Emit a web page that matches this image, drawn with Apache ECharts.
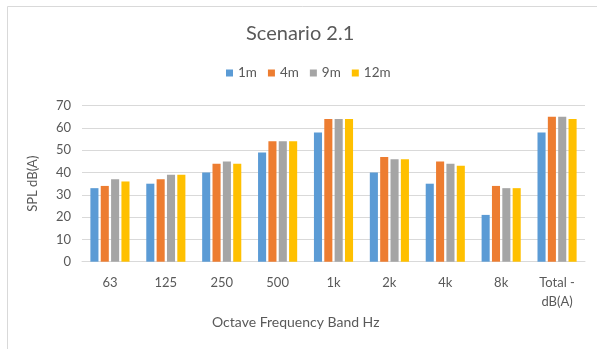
<!DOCTYPE html>
<html>
<head>
<meta charset="utf-8">
<script src="https://cdn.jsdelivr.net/npm/echarts@6/dist/echarts.min.js"></script>
<style>
  html, body { margin: 0; padding: 0; background: #fff; }
  #chart { width: 597px; height: 349px; }
</style>
</head>
<body>
<div id="chart"></div>
<script>
// Octave bands and measured SPL at each distance
const bands = ['63', '125', '250', '500', '1k', '2k', '4k', '8k', 'Total -\ndB(A)'];
const spl1m  = [33, 35, 40, 49, 58, 40, 35, 21, 58];
const spl4m  = [34, 37, 44, 54, 64, 47, 45, 34, 65];
const spl9m  = [37, 39, 45, 54, 64, 46, 44, 33, 65];
const spl12m = [36, 39, 44, 54, 64, 46, 43, 33, 64];
const seriesNames = ['1m', '4m', '9m', '12m'];
const yTicks = [0, 10, 20, 30, 40, 50, 60, 70];

const colors = ['#5B9BD5', '#ED7D31', '#A5A5A5', '#FFC000'];
const textColor = '#595959';
const font = 'Lato, "Open Sans", sans-serif';

const chart = echarts.init(document.getElementById('chart'), null, { renderer: 'canvas' });

const makeSeries = (name, data, i) => ({
  name,
  type: 'bar',
  data,
  barGap: '28%',
  barCategoryGap: '30%',
  itemStyle: { color: colors[i] },
  emphasis: { disabled: true }
});

chart.setOption({
  animation: false,
  backgroundColor: '#fff',
  textStyle: { fontFamily: font },
  title: {
    text: 'Scenario 2.1',
    left: 246,
    top: 24,
    padding: 0,
    textStyle: { fontFamily: font, fontSize: 20, fontWeight: 'normal', color: textColor }
  },
  legend: {
    data: seriesNames,
    left: 226,
    top: 66,
    padding: 0,
    itemWidth: 7,
    itemHeight: 7,
    itemGap: 11,
    icon: 'rect',
    textStyle: { fontFamily: font, fontSize: 13.5, color: textColor }
  },
  grid: { left: 82, right: 12, top: 105.7, bottom: 87.3 },
  xAxis: {
    type: 'category',
    data: bands,
    axisLine: { lineStyle: { color: '#d9d9d9', width: 1 } },
    axisTick: { show: false },
    axisLabel: { color: textColor, fontSize: 13, fontFamily: font, margin: 12, lineHeight: 19, interval: 0 }
  },
  yAxis: {
    type: 'value',
    min: yTicks[0],
    max: yTicks[yTicks.length - 1],
    interval: 10,
    name: 'SPL dB(A)',
    nameLocation: 'middle',
    nameGap: 43,
    nameTextStyle: { color: textColor, fontSize: 13, fontFamily: font },
    axisLine: { show: false },
    axisTick: { show: false },
    splitLine: { lineStyle: { color: '#d9d9d9', width: 1 } },
    axisLabel: { color: textColor, fontSize: 13, fontFamily: font, margin: 11 }
  },
  graphic: [
    {
      type: 'rect',
      silent: true,
      shape: { x: 7.5, y: 6.5, width: 620, height: 360 },
      style: { fill: 'none', stroke: '#d9d9d9', lineWidth: 1 }
    },
    {
      type: 'text',
      silent: true,
      left: 212,
      top: 315,
      style: {
        text: 'Octave Frequency Band Hz',
        fill: textColor,
        font: '14px ' + font
      }
    }
  ],
  series: [
    makeSeries(seriesNames[0], spl1m, 0),
    makeSeries(seriesNames[1], spl4m, 1),
    makeSeries(seriesNames[2], spl9m, 2),
    makeSeries(seriesNames[3], spl12m, 3)
  ]
});
</script>
</body>
</html>
